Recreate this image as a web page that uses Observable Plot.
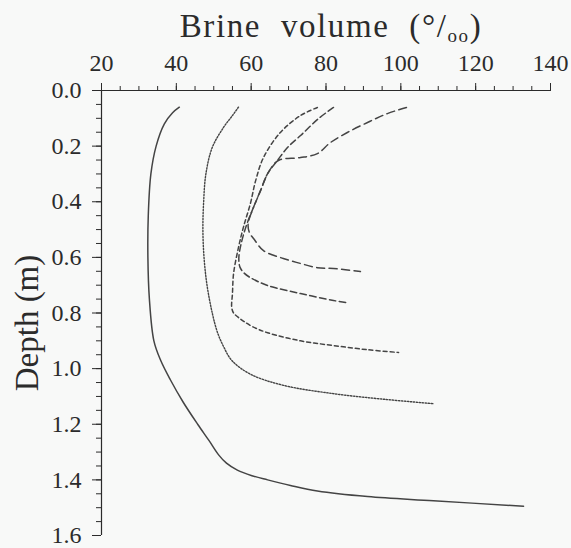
<!DOCTYPE html>
<html>
<head>
<meta charset="utf-8">
<script src="https://cdn.jsdelivr.net/npm/d3@7"></script>
<script src="https://cdn.jsdelivr.net/npm/@observablehq/plot@0.6"></script>
<style>
  html, body { margin: 0; padding: 0; background: #f8f9f8; }
  #chart svg { display: block; }
</style>
</head>
<body>
<div id="chart"></div>
<script>
// ---- data ----
const xMajorTicks = [20, 40, 60, 80, 100, 120, 140];
const xMinorTicks = d3.range(20, 141, 5);
const yMajorTicks = [0.0, 0.2, 0.4, 0.6, 0.8, 1.0, 1.2, 1.4, 1.6];
const yMinorTicks = d3.range(0, 1.6001, 0.05);

// solid profile (ice thickness ~1.49 m)
const solidDepth = [0.06, 0.08, 0.12, 0.2, 0.3, 0.45, 0.6, 0.75, 0.9, 0.97, 1.04, 1.12, 1.2, 1.26, 1.31, 1.34, 1.365, 1.385, 1.40, 1.42, 1.44, 1.46, 1.475, 1.495];
const solidVol   = [40.8, 39.0, 36.8, 34.6, 33.2, 32.5, 32.4, 32.8, 34.0, 35.8, 38.4, 41.8, 45.7, 48.8, 51.3, 53.4, 56.3, 60.2, 64.4, 70.5, 77.7, 91.1, 108.7, 132.8];

// dotted profile (~1.12 m)
const dotDepth = [0.06, 0.09, 0.133, 0.205, 0.3, 0.4, 0.5, 0.6, 0.7, 0.8, 0.87, 0.92, 0.97, 1.02, 1.06, 1.09, 1.11, 1.126];
const dotVol   = [56.6, 55.0, 52.6, 49.6, 47.9, 47.3, 47.1, 47.4, 48.2, 49.6, 51.0, 52.6, 54.8, 59.8, 68.6, 82.0, 95.4, 108.7];

// short-dash profile (~0.94 m)
const dashADepth = [0.061, 0.09, 0.151, 0.241, 0.324, 0.406, 0.493, 0.565, 0.658, 0.73, 0.78, 0.80, 0.815, 0.83, 0.85, 0.871, 0.9, 0.917, 0.932, 0.942];
const dashAVol   = [77.7, 73.2, 67.8, 63.3, 61.2, 59.8, 57.9, 56.6, 55.3, 55.0, 54.8, 55.3, 56.5, 58.0, 60.5, 64.4, 73.2, 82.0, 91.1, 99.4];

// medium-dash profile (~0.76 m)
const dashBDepth = [0.061, 0.101, 0.162, 0.205, 0.252, 0.299, 0.36, 0.421, 0.486, 0.558, 0.605, 0.635, 0.655, 0.673, 0.701, 0.73, 0.755, 0.763];
const dashBVol   = [82.0, 78.0, 73.2, 69.7, 67.0, 64.4, 62.5, 60.6, 58.7, 57.2, 56.7, 57.0, 58.0, 59.8, 64.4, 73.2, 82.0, 85.7];

// long-dash profile (~0.65 m)
const dashCDepth = [0.061, 0.083, 0.115, 0.151, 0.187, 0.227, 0.241, 0.248, 0.259, 0.299, 0.36, 0.421, 0.478, 0.51, 0.535, 0.576, 0.604, 0.622, 0.637, 0.64, 0.651];
const dashCVol   = [101.5, 96.4, 91.1, 85.7, 81.2, 77.7, 73.2, 67.8, 66.5, 64.4, 62.5, 60.6, 59.2, 59.5, 60.8, 63.3, 68.6, 73.2, 77.7, 82.0, 89.2];

const toRows = (depth, vol) => depth.map((d, i) => ({d, v: vol[i]}));

const font = "'Liberation Serif', 'Times New Roman', serif";
const ink = "#2b2b2b";
const lineInk = "#444";

const chart = Plot.plot({
  width: 571,
  height: 548,
  marginLeft: 101,
  marginRight: 21,
  marginTop: 90,
  marginBottom: 13,
  x: {domain: [20, 140]},
  y: {domain: [0, 1.6], reverse: true},
  style: {background: "transparent", fontFamily: font, color: ink},
  marks: [
    Plot.axisX({anchor: "top", ticks: xMinorTicks, tickSize: 5, tickFormat: () => "", label: null, stroke: ink}),
    Plot.axisX({anchor: "top", ticks: xMajorTicks, tickSize: 8, tickPadding: 12, fontSize: 24, label: null, stroke: ink, fill: ink}),
    Plot.axisY({anchor: "left", ticks: yMinorTicks, tickSize: 5, tickFormat: () => "", label: null, stroke: ink}),
    Plot.axisY({anchor: "left", ticks: yMajorTicks, tickSize: 9, tickPadding: 11, fontSize: 24, tickFormat: d3.format(".1f"), label: null, stroke: ink, fill: ink}),
    Plot.ruleY([0], {stroke: ink, strokeWidth: 1.2}),
    Plot.ruleX([20], {stroke: ink, strokeWidth: 1.2}),
    Plot.line(toRows(solidDepth, solidVol), {x: "v", y: "d", curve: "catmull-rom", stroke: lineInk, strokeWidth: 1.5}),
    Plot.line(toRows(dotDepth, dotVol), {x: "v", y: "d", curve: "catmull-rom", stroke: lineInk, strokeWidth: 1.4, strokeDasharray: "1.4,1.6"}),
    Plot.line(toRows(dashADepth, dashAVol), {x: "v", y: "d", curve: "catmull-rom", stroke: lineInk, strokeWidth: 1.5, strokeDasharray: "4,3"}),
    Plot.line(toRows(dashBDepth, dashBVol), {x: "v", y: "d", curve: "catmull-rom", stroke: lineInk, strokeWidth: 1.5, strokeDasharray: "6.5,3.5"}),
    Plot.line(toRows(dashCDepth, dashCVol), {x: "v", y: "d", curve: "catmull-rom", stroke: lineInk, strokeWidth: 1.5, strokeDasharray: "8,4.5"}),
    Plot.text(["Depth (m)"], {frameAnchor: "left", textAnchor: "middle", rotate: -90, dx: -64, dy: 10, lineAnchor: "bottom", fontSize: 33, fill: ink, fontFamily: font, style: "letter-spacing:3px;word-spacing:6px"})
  ]
});

// Title with superscript/subscript per-mille notation
const svg = d3.select(chart);
const title = svg.append("text")
  .attr("x", 331).attr("y", 37)
  .attr("text-anchor", "middle")
  .attr("font-family", font)
  .attr("font-size", 33)
  .attr("fill", ink)
  .style("letter-spacing", "1.6px")
  .style("word-spacing", "10px");
title.append("tspan").text("Brine volume (°/");
title.append("tspan").attr("font-size", 19).attr("dy", 5).text("oo");
title.append("tspan").attr("dy", -5).text(")");

document.getElementById("chart").appendChild(chart);
</script>
</body>
</html>
